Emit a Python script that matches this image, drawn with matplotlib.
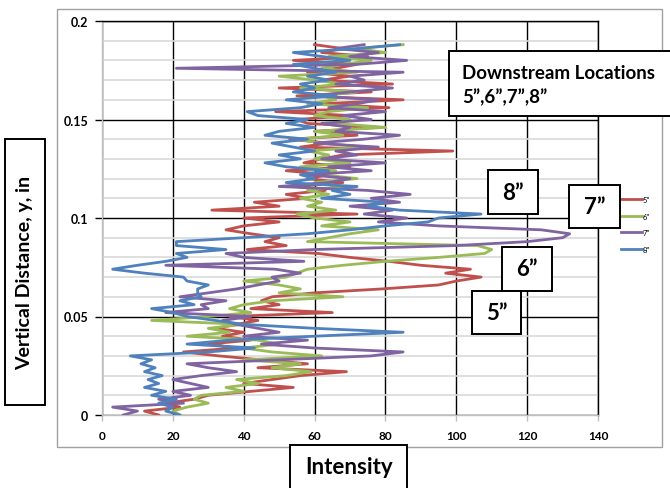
import numpy as np
import matplotlib
matplotlib.use("Agg")
import matplotlib.pyplot as plt
from matplotlib.patches import Rectangle
from matplotlib.ticker import MultipleLocator

# intensity profiles, sampled every 0.002 in from the wall
int_5in = [16, 12, 22, 18, 26, 30, 42, 54, 40, 48,
           56, 69, 44, 58, 45, 33, 23, 38, 30, 42,
           34, 40, 32, 38, 44, 36, 65, 42, 50, 45,
           48, 60, 79, 95, 100, 107, 97, 104, 90, 81,
           70, 61, 41, 52, 46, 50, 42, 35, 40, 50,
           40, 72, 31, 50, 43, 58, 52, 63, 55, 68,
           58, 64, 52, 70, 57, 62, 68, 99, 56, 64,
           53, 72, 60, 78, 58, 55, 70, 49, 81, 62,
           85, 55, 76, 50, 82, 62, 70, 58, 66, 72,
           54, 75, 62, 68, 60]
int_6in = [22, 20, 24, 30, 26, 28, 40, 35, 44, 38,
           52, 59, 48, 56, 40, 62, 48, 40, 50, 44,
           24, 36, 30, 40, 14, 30, 42, 36, 40, 48,
           68, 50, 56, 50, 40, 52, 55, 58, 68, 80,
           95, 108, 110, 106, 58, 64, 70, 78, 62, 70,
           60, 55, 66, 58, 62, 56, 64, 58, 68, 60,
           72, 62, 66, 56, 70, 60, 64, 58, 74, 62,
           55, 68, 60, 80, 66, 70, 60, 64, 75, 58,
           66, 62, 72, 56, 68, 60, 50, 72, 62, 68,
           76, 64, 80, 72, 85]
int_7in = [6, 10, 3, 23, 16, 25, 20, 30, 25, 20,
           28, 38, 30, 24, 50, 76, 85, 60, 45, 58,
           40, 50, 44, 38, 34, 42, 18, 30, 28, 35,
           22, 30, 38, 44, 50, 48, 56, 49, 18, 57,
           40, 35, 60, 100, 120, 130, 132, 124, 95, 78,
           86, 74, 82, 70, 84, 76, 87, 75, 50, 64,
           70, 58, 76, 64, 80, 62, 72, 66, 78, 60,
           74, 84, 66, 70, 62, 76, 68, 80, 64, 72,
           78, 60, 70, 82, 66, 74, 70, 85, 21, 72,
           86, 70, 78, 66, 74]
int_8in = [22, 18, 20, 16, 21, 14, 18, 12, 16, 13,
           17, 12, 15, 11, 14, 8, 30, 43, 24, 36,
           60, 85, 60, 40, 32, 24, 20, 14, 26, 22,
           28, 27, 27, 30, 24, 23, 12, 3, 10, 18,
           24, 21, 35, 21, 21, 40, 58, 70, 80, 92,
           95, 107, 84, 75, 80, 62, 70, 65, 72, 52,
           60, 56, 64, 52, 46, 56, 50, 60, 54, 48,
           58, 46, 50, 60, 52, 58, 44, 41, 56, 62,
           52, 66, 54, 60, 56, 64, 58, 66, 60, 54,
           70, 62, 54, 72, 84]

series = [int_5in, int_6in, int_7in, int_8in]
labels = ['5"', '6"', '7"', '8"']
colors = ['#C0504D', '#9BBB59', '#8064A2', '#4F81BD']

y_ticks = [0, 0.05, 0.1, 0.15, 0.2]
y_ticklabels = ['0', '0.05', '0.1', '0.15', '0.2']
x_ticks = [0, 20, 40, 60, 80, 100, 120, 140]

# measurement heights (in)
depth = np.arange(len(int_5in)) * 0.002

W, H = 670, 489
plt.rcParams['font.family'] = ['Lato', 'DejaVu Sans']

fig = plt.figure(figsize=(W / 100, H / 100), dpi=100)


def fx(px):
    return px / W


def fy(py):
    return 1 - py / H


def box(x0, y0, x1, y1, lw=1.4, color='black'):
    fig.patches.append(Rectangle((fx(x0), fy(y1)), fx(x1) - fx(x0), fy(y0) - fy(y1),
                                 transform=fig.transFigure, fill=True, facecolor='white',
                                 edgecolor=color, linewidth=lw, zorder=5))


# outer chart frame
fig.patches.append(Rectangle((fx(57), fy(448)), fx(662) - fx(57), fy(10) - fy(448),
                             transform=fig.transFigure, fill=False,
                             edgecolor='#A0A0A0', linewidth=1.0, zorder=0))

ax = fig.add_axes([fx(102), fy(416), fx(598) - fx(102), fy(22) - fy(416)])

for vals, lab, c in zip(series, labels, colors):
    ax.plot(vals, depth, color=c, lw=2.0, label=lab, zorder=3)

ax.set_xlim(0, 140)
ax.set_ylim(0, 0.2)
ax.set_xticks(x_ticks)
ax.set_yticks(y_ticks)
ax.set_yticklabels(y_ticklabels)
ax.yaxis.set_minor_locator(MultipleLocator(0.01))
ax.set_axisbelow(True)
ax.yaxis.grid(True, which='minor', color='#D9D9D9', lw=1.2)
ax.yaxis.grid(True, which='major', color='black', lw=1.0)
ax.xaxis.grid(True, color='black', lw=1.0)

for side in ['left', 'bottom']:
    ax.spines[side].set_color('#BFBFBF')
    ax.spines[side].set_linewidth(1.0)
for side in ['top', 'right']:
    ax.spines[side].set_color('black')
    ax.spines[side].set_linewidth(1.0)

ax.tick_params(axis='y', which='major', length=5, width=1, color='black',
               labelsize=9, pad=5)
ax.tick_params(axis='y', which='minor', length=0)
ax.tick_params(axis='x', length=4, width=1, color='#BFBFBF', labelsize=8.5, pad=7)
for t in ax.get_xticklabels() + ax.get_yticklabels():
    t.set_fontweight('bold')

leg = ax.legend(loc='upper left', bbox_to_anchor=(fx(618), fy(194)),
                bbox_transform=fig.transFigure, frameon=False, fontsize=5.5,
                handlelength=2.7, handletextpad=0.1, labelspacing=1.25,
                borderaxespad=0)

# axis title boxes
box(5, 140, 45, 406)
fig.text(fx(25), fy(273), 'Vertical Distance, y, in', rotation=90, ha='center',
         va='center', fontsize=14, fontweight='bold', zorder=6)
box(290, 446, 407, 495)
fig.text(fx(349), fy(468), 'Intensity', ha='center', va='center',
         fontsize=16, fontweight='bold', zorder=6)

# annotation boxes
box(449, 52, 675, 117)
fig.text(fx(462), fy(74), 'Downstream Locations', ha='left', va='center',
         fontsize=13.5, fontweight='bold', zorder=6)
fig.text(fx(462), fy(97), '5\u201d,6\u201d,7\u201d,8\u201d', ha='left', va='center',
         fontsize=13.5, fontweight='bold', zorder=6)

tags = [('8\u201d', 488, 171, 538, 215),
        ('7\u201d', 569, 186, 620, 229),
        ('6\u201d', 502, 248, 552, 292),
        ('5\u201d', 472, 292, 521, 335)]
for txt, x0, y0, x1, y1 in tags:
    box(x0, y0, x1, y1)
    fig.text(fx((x0 + x1) / 2), fy((y0 + y1) / 2), txt, ha='center', va='center',
             fontsize=16, fontweight='bold', zorder=6)

fig.savefig('out.png', dpi=100)
